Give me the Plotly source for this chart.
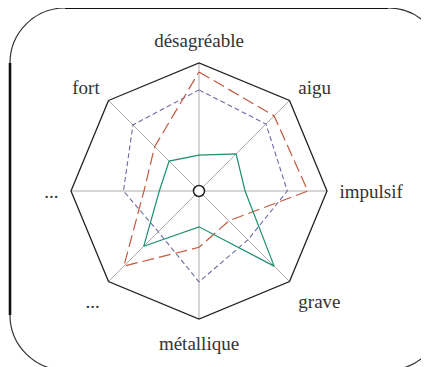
import plotly.graph_objects as go

# axes, clockwise from the top
axis_ids = ["a0", "a1", "a2", "a3", "a4", "a5", "a6", "a7"]
labels = ["désagréable", "aigu", "impulsif", "grave", "métallique", "...", "...", "fort"]

red_vals = [0.93, 0.83, 0.85, 0.33, 0.44, 0.83, 0.43, 0.49]
blue_vals = [0.79, 0.74, 0.69, 0.54, 0.71, 0.45, 0.59, 0.73]
green_vals = [0.28, 0.41, 0.36, 0.83, 0.28, 0.61, 0.31, 0.33]

# page is offset by the 8px body margin
OFF = 8
W, H = 429 - OFF, 367 - OFF


def px(x, y):
    return (x - OFF) / W, 1 - (y - OFF) / H


def closed(v):
    return v + v[:1]


fig = go.Figure()

fig.add_trace(go.Scatterpolar(r=closed(blue_vals), theta=closed(axis_ids), mode="lines",
                              line=dict(color="#6b6aa3", width=1.1, dash="5px,3px"),
                              showlegend=False, hoverinfo="skip"))
fig.add_trace(go.Scatterpolar(r=closed(red_vals), theta=closed(axis_ids), mode="lines",
                              line=dict(color="#c4583f", width=1.2, dash="12px,5px"),
                              showlegend=False, hoverinfo="skip"))
fig.add_trace(go.Scatterpolar(r=closed(green_vals), theta=closed(axis_ids), mode="lines",
                              line=dict(color="#1b8f72", width=1.2),
                              showlegend=False, hoverinfo="skip"))
# small hollow circle at the centre
fig.add_trace(go.Scatterpolar(r=[0.0001], theta=[axis_ids[0]], mode="markers", cliponaxis=False,
                              marker=dict(size=11, color="white", line=dict(color="#222", width=1.5)),
                              showlegend=False, hoverinfo="skip"))

cx, cy, rad = 199, 191, 128
x0, _ = px(cx - rad, 0)
x1, _ = px(cx + rad, 0)
_, y1 = px(0, cy - rad)
_, y0 = px(0, cy + rad)

fig.update_layout(
    width=W, height=H,
    margin=dict(l=0, r=0, t=0, b=0),
    paper_bgcolor="white",
    font=dict(family="Liberation Serif, DejaVu Serif, serif", size=19, color="#333"),
    polar=dict(
        domain=dict(x=[x0, x1], y=[y0, y1]),
        bgcolor="white",
        gridshape="linear",
        radialaxis=dict(range=[0, 1], showline=False, showgrid=False,
                        showticklabels=False, ticks=""),
        angularaxis=dict(type="category", categoryorder="array", categoryarray=axis_ids,
                         rotation=90, direction="clockwise",
                         tickmode="array", tickvals=axis_ids, ticktext=labels,
                         showline=True, linecolor="#222", linewidth=1.3,
                         showgrid=True, gridcolor="#b3a9a9", gridwidth=1,
                         ticks="outside", ticklen=8, tickcolor="rgba(0,0,0,0)"),
    ),
)

# rounded frame around the figure (extends past the right and bottom edges)
L, T, R, B, rr = 10, 8, 443, 370, 55
k = rr * 0.5523


def P(x, y):
    a, b = px(x, y)
    return f"{a:.5f},{b:.5f}"


path = (f"M {P(L, T + rr)} C {P(L, T + rr - k)} {P(L + rr - k, T)} {P(L + rr, T)} "
        f"L {P(R - rr, T)} C {P(R - rr + k, T)} {P(R, T + rr - k)} {P(R, T + rr)} "
        f"L {P(R, B - rr)} C {P(R, B - rr + k)} {P(R - rr + k, B)} {P(R - rr, B)} "
        f"L {P(L + rr, B)} C {P(L + rr - k, B)} {P(L, B - rr + k)} {P(L, B - rr)} Z")
fig.add_shape(type="path", path=path, xref="paper", yref="paper",
              line=dict(color="#333", width=1.2))
fig.add_shape(type="path", path=f"M {P(L, T + rr)} L {P(L, B - rr)}", xref="paper", yref="paper",
              line=dict(color="#111", width=2.6))
fig.add_shape(type="path", path=f"M {P(L + rr, T)} L {P(R - rr, T)}", xref="paper", yref="paper",
              line=dict(color="#111", width=1.8))

fig.write_html("out.html")
